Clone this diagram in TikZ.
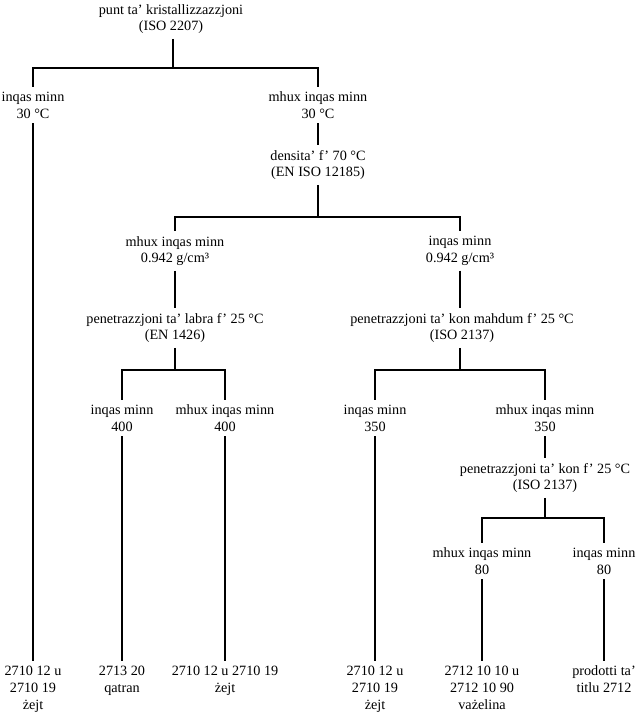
\documentclass[tikz,border=0pt]{standalone}
\usepackage{fontspec}
\setmainfont{Liberation Serif}
\usepackage{tikz}

\begin{document}
\begin{tikzpicture}[x=1pt, y=-1pt,
  crit/.style={align=center, inner sep=0pt, outer sep=5pt, font=\fontsize{14.2}{16.8}\selectfont},
  leaf/.style={crit, anchor=north},
  branch/.style={line width=1.8pt}]
  \useasboundingbox (0,0) rectangle (639,724);

  % Crystallisation point
  \node[crit] (root) at (171,19) {punt ta' kristallizzazzjoni\\(ISO 2207)};
  \node[crit] (lt30) at (33,105) {inqas minn\\30 °C};
  \node[crit] (ge30) at (318,105) {mhux inqas minn\\30 °C};
  \coordinate (j1) at (173,68);
  \draw[branch] (root.south -| j1) -- (j1);
  \draw[branch] (lt30) |- (j1) -| (ge30);

  % Density
  \node[crit] (dens) at (318,165) {densita' f' 70 °C\\(EN ISO 12185)};
  \node[crit] (geden) at (175,251) {mhux inqas minn\\0.942 g/cm³};
  \node[crit] (ltden) at (460,251) {inqas minn\\0.942 g/cm³};
  \coordinate (j2) at (318,217);
  \draw[branch] (ge30) -- (dens);
  \draw[branch] (dens) -- (j2);
  \draw[branch] (geden) |- (j2) -| (ltden);

  % Needle penetration
  \node[crit] (needle) at (175,328) {penetrazzjoni ta' labra f' 25 °C\\(EN 1426)};
  \node[crit] (lt400) at (122,418) {inqas minn\\400};
  \node[crit] (ge400) at (225,418) {mhux inqas minn\\400};
  \coordinate (j3) at (175,370);
  \draw[branch] (geden) -- (needle);
  \draw[branch] (needle) -- (j3);
  \draw[branch] (lt400) |- (j3) -| (ge400);

  % Worked cone penetration
  \node[crit] (wcone) at (462,328) {penetrazzjoni ta' kon mahdum f' 25 °C\\(ISO 2137)};
  \node[crit] (lt350) at (375,418) {inqas minn\\350};
  \node[crit] (ge350) at (545,418) {mhux inqas minn\\350};
  \coordinate (j4) at (460,370);
  \draw[branch] (ltden) -- (ltden |- wcone.north);
  \draw[branch] (wcone.south -| j4) -- (j4);
  \draw[branch] (lt350) |- (j4) -| (ge350);

  % Cone penetration
  \node[crit] (cone) at (545,478) {penetrazzjoni ta' kon f' 25 °C\\(ISO 2137)};
  \node[crit] (ge80) at (482,561) {mhux inqas minn\\80};
  \node[crit] (lt80) at (604,561) {inqas minn\\80};
  \coordinate (j5) at (545,518);
  \draw[branch] (ge350) -- (cone);
  \draw[branch] (cone) -- (j5);
  \draw[branch] (ge80) |- (j5) -| (lt80);

  % Headings
  \node[leaf] (hA) at (33,661) {2710 12 u\\2710 19\\żejt};
  \node[leaf] (hB) at (122,661) {2713 20\\qatran};
  \node[leaf] (hC) at (225,661) {2710 12 u 2710 19\\żejt};
  \node[leaf] (hD) at (375,661) {2710 12 u\\2710 19\\żejt};
  \node[leaf] (hE) at (482,661) {2712 10 10 u\\2712 10 90\\vażelina};
  \node[leaf] (hF) at (604,661) {prodotti ta'\\titlu 2712};
  \draw[branch] (lt30) -- (hA);
  \draw[branch] (lt400) -- (hB);
  \draw[branch] (ge400) -- (hC);
  \draw[branch] (lt350) -- (hD);
  \draw[branch] (ge80) -- (hE);
  \draw[branch] (lt80) -- (hF);
\end{tikzpicture}
\end{document}
